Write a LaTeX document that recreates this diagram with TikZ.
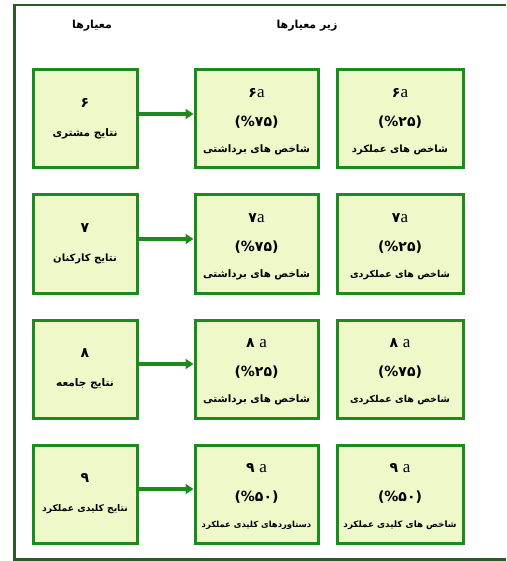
\documentclass[tikz,border=0pt]{standalone}
\usepackage{fontspec}
\setmainfont{Liberation Serif}
\newfontfamily\arabicfont[Script=Arabic]{DejaVu Sans}
\TeXXeTstate=1
\usetikzlibrary{arrows.meta}
\definecolor{boxgreen}{RGB}{28,138,28}
\definecolor{boxfill}{RGB}{238,248,200}
\definecolor{framegreen}{RGB}{45,90,40}
\tikzset{
  box/.style={draw=boxgreen, line width=3pt, fill=boxfill, inner sep=0pt},
  lbox/.style={box, minimum width=104pt, minimum height=98pt},
  mbox/.style={box, minimum width=123pt, minimum height=98pt},
  rbox/.style={box, minimum width=126pt, minimum height=98pt},
  head/.style={font=\arabicfont\bfseries\fontsize{11}{13}\selectfont, text=black, inner sep=0pt},
  num/.style={font=\arabicfont\bfseries\fontsize{14}{16}\selectfont, text=black, inner sep=0pt},
  pct/.style={font=\arabicfont\bfseries\fontsize{14}{16}\selectfont, text=black, inner sep=0pt},
  lbl/.style={font=\arabicfont\bfseries\fontsize{#1}{12}\selectfont, text=black, inner sep=0pt},
  link/.style={draw=boxgreen, line width=3.2pt, -{Triangle[length=8pt,width=10pt]}},
}
\newcommand\la[1]{{\rmfamily\mdseries\fontsize{17}{18}\selectfont #1}}
\begin{document}
\begin{tikzpicture}[x=1pt,y=-1pt]
\useasboundingbox (0,0) rectangle (506,561);
\draw[framegreen, line width=2.5pt] (506,5) -- (14.5,5) -- (14.5,559.5) -- (506,559.5);
\node[head] (h1) at (92,26) {\beginR معیارها\endR};
\node[head] (h2) at (307,26) {\beginR زیر معیارها\endR};
% boxes
\node[lbox] (l1) at (85,119) {};
\node[mbox] (m1) at (256.5,119) {};
\node[rbox] (r1) at (400,119) {};
\node[lbox] (l2) at (85,244) {};
\node[mbox] (m2) at (256.5,244) {};
\node[rbox] (r2) at (400,244) {};
\node[lbox] (l3) at (85,369) {};
\node[mbox] (m3) at (256.5,369) {};
\node[rbox] (r3) at (400,369) {};
\node[lbox] (l4) at (85,494) {};
\node[mbox] (m4) at (256.5,494) {};
\node[rbox] (r4) at (400,494) {};
% left texts
\node[num] (l1a) at ([yshift=16pt]l1.center) {۶};
\node[lbl=10.5] (l1b) at ([yshift=-15pt]l1.center) {\beginR نتایج مشتری\endR};
\node[num] (l2a) at ([yshift=16pt]l2.center) {۷};
\node[lbl=10] (l2b) at ([yshift=-15pt]l2.center) {\beginR نتایج کارکنان\endR};
\node[num] (l3a) at ([yshift=16pt]l3.center) {۸};
\node[lbl=10.5] (l3b) at ([yshift=-15pt]l3.center) {\beginR نتایج جامعه\endR};
\node[num] (l4a) at ([yshift=16pt]l4.center) {۹};
\node[lbl=9.2] (l4b) at ([yshift=-15pt]l4.center) {\beginR نتایج کلیدی عملکرد\endR};
% middle texts
\node[num] (m1a) at ([yshift=26pt]m1.center) {۶\la{a}};
\node[pct] (m1b) at ([yshift=-3pt]m1.center) {(\%۷۵)};
\node[lbl=10.3] (m1c) at ([yshift=-31pt]m1.center) {\beginR شاخص های برداشتی\endR};
\node[num] (m2a) at ([yshift=26pt]m2.center) {۷\la{a}};
\node[pct] (m2b) at ([yshift=-3pt]m2.center) {(\%۷۵)};
\node[lbl=10.3] (m2c) at ([yshift=-31pt]m2.center) {\beginR شاخص های برداشتی\endR};
\node[num] (m3a) at ([yshift=26pt]m3.center) {۸ \la{a}};
\node[pct] (m3b) at ([yshift=-3pt]m3.center) {(\%۲۵)};
\node[lbl=10.3] (m3c) at ([yshift=-31pt]m3.center) {\beginR شاخص های برداشتی\endR};
\node[num] (m4a) at ([yshift=26pt]m4.center) {۹ \la{a}};
\node[pct] (m4b) at ([yshift=-3pt]m4.center) {(\%۵۰)};
\node[lbl=8.4] (m4c) at ([yshift=-31pt]m4.center) {\beginR دستاوردهای کلیدی عملکرد\endR};
% right texts
\node[num] (r1a) at ([yshift=26pt]r1.center) {۶\la{a}};
\node[pct] (r1b) at ([yshift=-3pt]r1.center) {(\%۲۵)};
\node[lbl=10] (r1c) at ([yshift=-31pt]r1.center) {\beginR شاخص های عملکرد\endR};
\node[num] (r2a) at ([yshift=26pt]r2.center) {۷\la{a}};
\node[pct] (r2b) at ([yshift=-3pt]r2.center) {(\%۲۵)};
\node[lbl=9.5] (r2c) at ([yshift=-31pt]r2.center) {\beginR شاخص های عملکردی\endR};
\node[num] (r3a) at ([yshift=26pt]r3.center) {۸ \la{a}};
\node[pct] (r3b) at ([yshift=-3pt]r3.center) {(\%۷۵)};
\node[lbl=9.5] (r3c) at ([yshift=-31pt]r3.center) {\beginR شاخص های عملکردی\endR};
\node[num] (r4a) at ([yshift=26pt]r4.center) {۹ \la{a}};
\node[pct] (r4b) at ([yshift=-3pt]r4.center) {(\%۵۰)};
\node[lbl=8.8] (r4c) at ([yshift=-31pt]r4.center) {\beginR شاخص های کلیدی عملکرد\endR};
% arrows
\foreach \i in {1,2,3,4}{
  \draw[link] ([yshift=5pt]l\i.east) -- ([yshift=5pt]m\i.west);
}
\end{tikzpicture}
\end{document}
